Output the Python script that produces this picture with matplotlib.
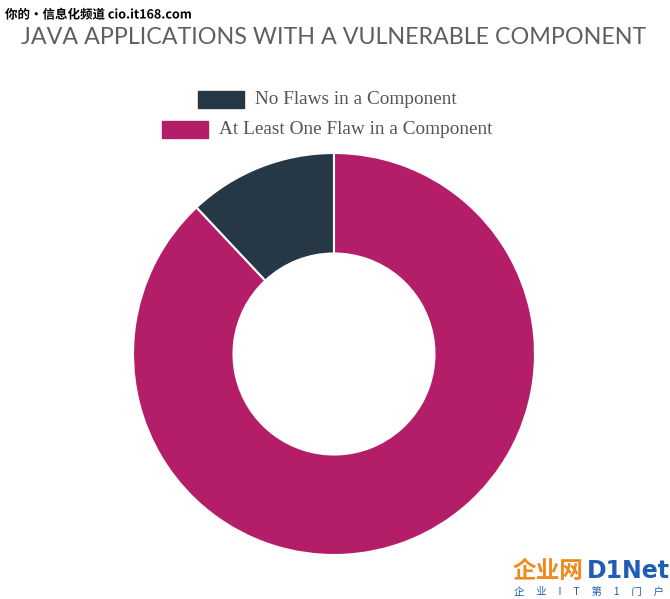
import matplotlib.pyplot as plt
import matplotlib.patheffects as pe
from matplotlib.patches import Rectangle

title = "JAVA APPLICATIONS WITH A VULNERABLE COMPONENT"
labels = ["No Flaws in a Component", "At Least One Flaw in a Component"]
values = [12, 88]
colors = ["#263746", "#B41E68"]

W, H = 670, 599
fig = plt.figure(figsize=(W / 100, H / 100), dpi=100)
fig.patch.set_facecolor("white")

# donut
ax = fig.add_axes([133 / W, 44 / H, 402 / W, 402 / H])
ax.pie(values, colors=colors, startangle=90, counterclock=True, radius=1,
       wedgeprops=dict(width=0.5, edgecolor="white", linewidth=1.5))
ax.set_xlim(-1, 1)
ax.set_ylim(-1, 1)
ax.set_aspect("equal")
ax.axis("off")

# title (no condensed font available -> shrink to the reference width)
t = fig.text(334 / W, 1 - 44 / H, title, ha="center", va="baseline",
             fontsize=27, color="#5f5f5f", family="Lato")
r = fig.canvas.get_renderer()
w = t.get_window_extent(r).width
t.set_fontsize(27 * 623 / w)

# legend, each line centred
leg_y = [100, 130]
leg_x = [198, 162]
for lx, ly, lab, col in zip(leg_x, leg_y, labels, colors):
    fig.patches.append(Rectangle((lx / W, 1 - (ly + 8) / H), 46 / W, 17 / H,
                                 transform=fig.transFigure, color=col))
    fig.text((lx + 57) / W, 1 - ly / H, lab, ha="left", va="center",
             fontsize=13.9, color="#555555", family="Liberation Serif")

# watermarks
fig.text(5 / W, 1 - 15 / H, "你的·信息化频道 cio.it168.com", ha="left", va="center",
         fontsize=9, fontweight="bold", color="black",
         family=["Noto Sans CJK SC", "DejaVu Sans"],
         path_effects=[pe.withStroke(linewidth=2.5, foreground="white")])
fig.text(548 / W, 1 - 571 / H, "企业网", ha="center", va="center",
         fontsize=17, fontweight="bold", color="#F08A1C",
         family=["Noto Sans CJK SC", "DejaVu Sans"])
fig.text(628 / W, 1 - 571 / H, "D1Net", ha="center", va="center",
         fontsize=17, fontweight="bold", color="#1E5FB4", family="DejaVu Sans")
fig.text(589 / W, 1 - 592 / H, "企     业     I     T     第     1     门     户",
         ha="center", va="center",
         fontsize=7.5, color="#1E5FB4", family=["Noto Sans CJK SC", "DejaVu Sans"])

fig.savefig("out.png", dpi=100, facecolor="white")
